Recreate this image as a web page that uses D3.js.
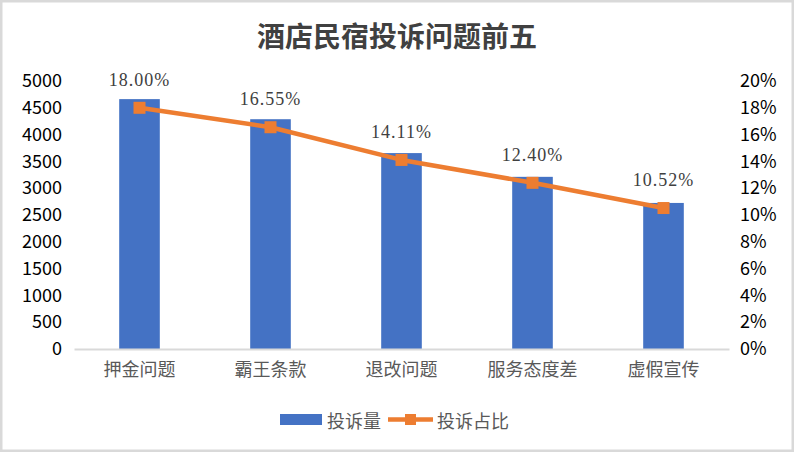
<!DOCTYPE html>
<html>
<head>
<meta charset="utf-8">
<script src="https://cdn.jsdelivr.net/npm/d3@7"></script>
<style>
  body { margin: 0; background: #fff; }
  svg { display: block; }
</style>
</head>
<body>
<svg id="thesvg" width="794" height="452"></svg>
<script>
var categories = ["押金问题", "霸王条款", "退改问题", "服务态度差", "虚假宣传"];
var counts = [4662, 4287, 3655, 3212, 2725];
var shares = [0.18, 0.1655, 0.1411, 0.124, 0.1052];
var leftTicks = [0, 500, 1000, 1500, 2000, 2500, 3000, 3500, 4000, 4500, 5000];
var rightTicks = [0, 0.02, 0.04, 0.06, 0.08, 0.10, 0.12, 0.14, 0.16, 0.18, 0.20];
var seriesNames = ["投诉量", "投诉占比"];
var title = "酒店民宿投诉问题前五";

var w = 794;
var h = 452;
// note: "top" is taken by window.top, so use plot_* names
var plot_left = 74, plot_right = 729, plot_top = 81, plot_bottom = 349;
var cjk = "'Noto Sans CJK SC', 'Noto Sans', sans-serif";
var blue = "#4472C4";
var orange = "#ED7D31";

var svg = d3.select("#thesvg");

// frame
svg.append("rect")
    .attr("x", 1.25).attr("y", 1.25)
    .attr("width", w - 2.5).attr("height", h - 2.5)
    .attr("fill", "#fff")
    .attr("stroke", "#d9d9d9")
    .attr("stroke-width", 2.5);

svg.append("text")
    .attr("x", 397)
    .attr("y", 35)
    .attr("text-anchor", "middle")
    .attr("dominant-baseline", "central")
    .style("font-family", cjk)
    .style("font-size", "28px")
    .style("font-weight", "bold")
    .style("fill", "#404040")
    .text(title);

var xScale = d3.scaleBand()
    .domain(categories)
    .range([plot_left, plot_right])
    .paddingInner(0.69)
    .paddingOuter(0.345);

var yLeft = d3.scaleLinear().domain([0, 5000]).range([plot_bottom, plot_top]);
var yRight = d3.scaleLinear().domain([0, 0.2]).range([plot_bottom, plot_top]);

// left axis
var gl = svg.append("g")
    .attr("transform", "translate(" + (plot_left - 6) + ",0)")
    .call(d3.axisLeft(yLeft).tickValues(leftTicks).tickSize(0).tickPadding(6)
        .tickFormat(d3.format("d")));
gl.select(".domain").remove();
gl.selectAll("text")
    .style("font-family", cjk)
    .style("font-size", "18px")
    .style("fill", "#000");

// right axis
var gr = svg.append("g")
    .attr("transform", "translate(" + (plot_right + 5) + ",0)")
    .call(d3.axisRight(yRight).tickValues(rightTicks).tickSize(0).tickPadding(6)
        .tickFormat(d3.format(".0%")));
gr.select(".domain").remove();
gr.selectAll("text")
    .style("font-family", cjk)
    .style("font-size", "18px")
    .style("fill", "#000");

// bars
svg.selectAll(".bar")
    .data(counts)
    .enter()
    .append("rect")
    .attr("class", "bar")
    .attr("x", function(d, i) { return xScale(categories[i]); })
    .attr("y", function(d) { return yLeft(d); })
    .attr("width", xScale.bandwidth())
    .attr("height", function(d) { return plot_bottom - yLeft(d); })
    .attr("fill", blue);

// bottom axis
var gx = svg.append("g")
    .attr("transform", "translate(0," + plot_bottom + ")")
    .call(d3.axisBottom(xScale).tickSize(0).tickPadding(14));
gx.select(".domain").attr("stroke", "#d9d9d9").attr("stroke-width", 2);
gx.selectAll("text")
    .style("font-family", cjk)
    .style("font-size", "18px")
    .style("fill", "#595959");

// line
var cx = function(i) { return xScale(categories[i]) + xScale.bandwidth() / 2; };
var line = d3.line()
    .x(function(d, i) { return cx(i); })
    .y(function(d) { return yRight(d); });

svg.append("path")
    .datum(shares)
    .attr("d", line)
    .attr("fill", "none")
    .attr("stroke", orange)
    .attr("stroke-width", 4.5)
    .attr("stroke-linejoin", "round");

svg.selectAll(".marker")
    .data(shares)
    .enter()
    .append("rect")
    .attr("class", "marker")
    .attr("x", function(d, i) { return cx(i) - 6; })
    .attr("y", function(d) { return yRight(d) - 6; })
    .attr("width", 12)
    .attr("height", 12)
    .attr("fill", orange);

svg.selectAll(".label")
    .data(shares)
    .enter()
    .append("text")
    .attr("class", "label")
    .attr("x", function(d, i) { return cx(i); })
    .attr("y", function(d) { return yRight(d) - 22; })
    .attr("text-anchor", "middle")
    .style("font-family", "'Liberation Serif', 'DejaVu Serif', serif")
    .style("font-size", "18px")
    .style("letter-spacing", "1px")
    .style("fill", "#404040")
    .text(function(d) { return d3.format(".2f")(d * 100) + "%"; });

// legend
var lg = svg.append("g");
lg.append("rect")
    .attr("x", 280).attr("y", 414)
    .attr("width", 42).attr("height", 11)
    .attr("fill", blue);
lg.append("text")
    .attr("x", 327).attr("y", 420)
    .attr("dominant-baseline", "central")
    .style("font-family", cjk)
    .style("font-size", "18px")
    .style("fill", "#595959")
    .text(seriesNames[0]);
lg.append("line")
    .attr("x1", 388).attr("x2", 433)
    .attr("y1", 419.5).attr("y2", 419.5)
    .attr("stroke", orange)
    .attr("stroke-width", 4.5);
lg.append("rect")
    .attr("x", 405).attr("y", 414)
    .attr("width", 11).attr("height", 11)
    .attr("fill", orange);
lg.append("text")
    .attr("x", 437).attr("y", 420)
    .attr("dominant-baseline", "central")
    .style("font-family", cjk)
    .style("font-size", "18px")
    .style("fill", "#595959")
    .text(seriesNames[1]);
</script>
</body>
</html>
